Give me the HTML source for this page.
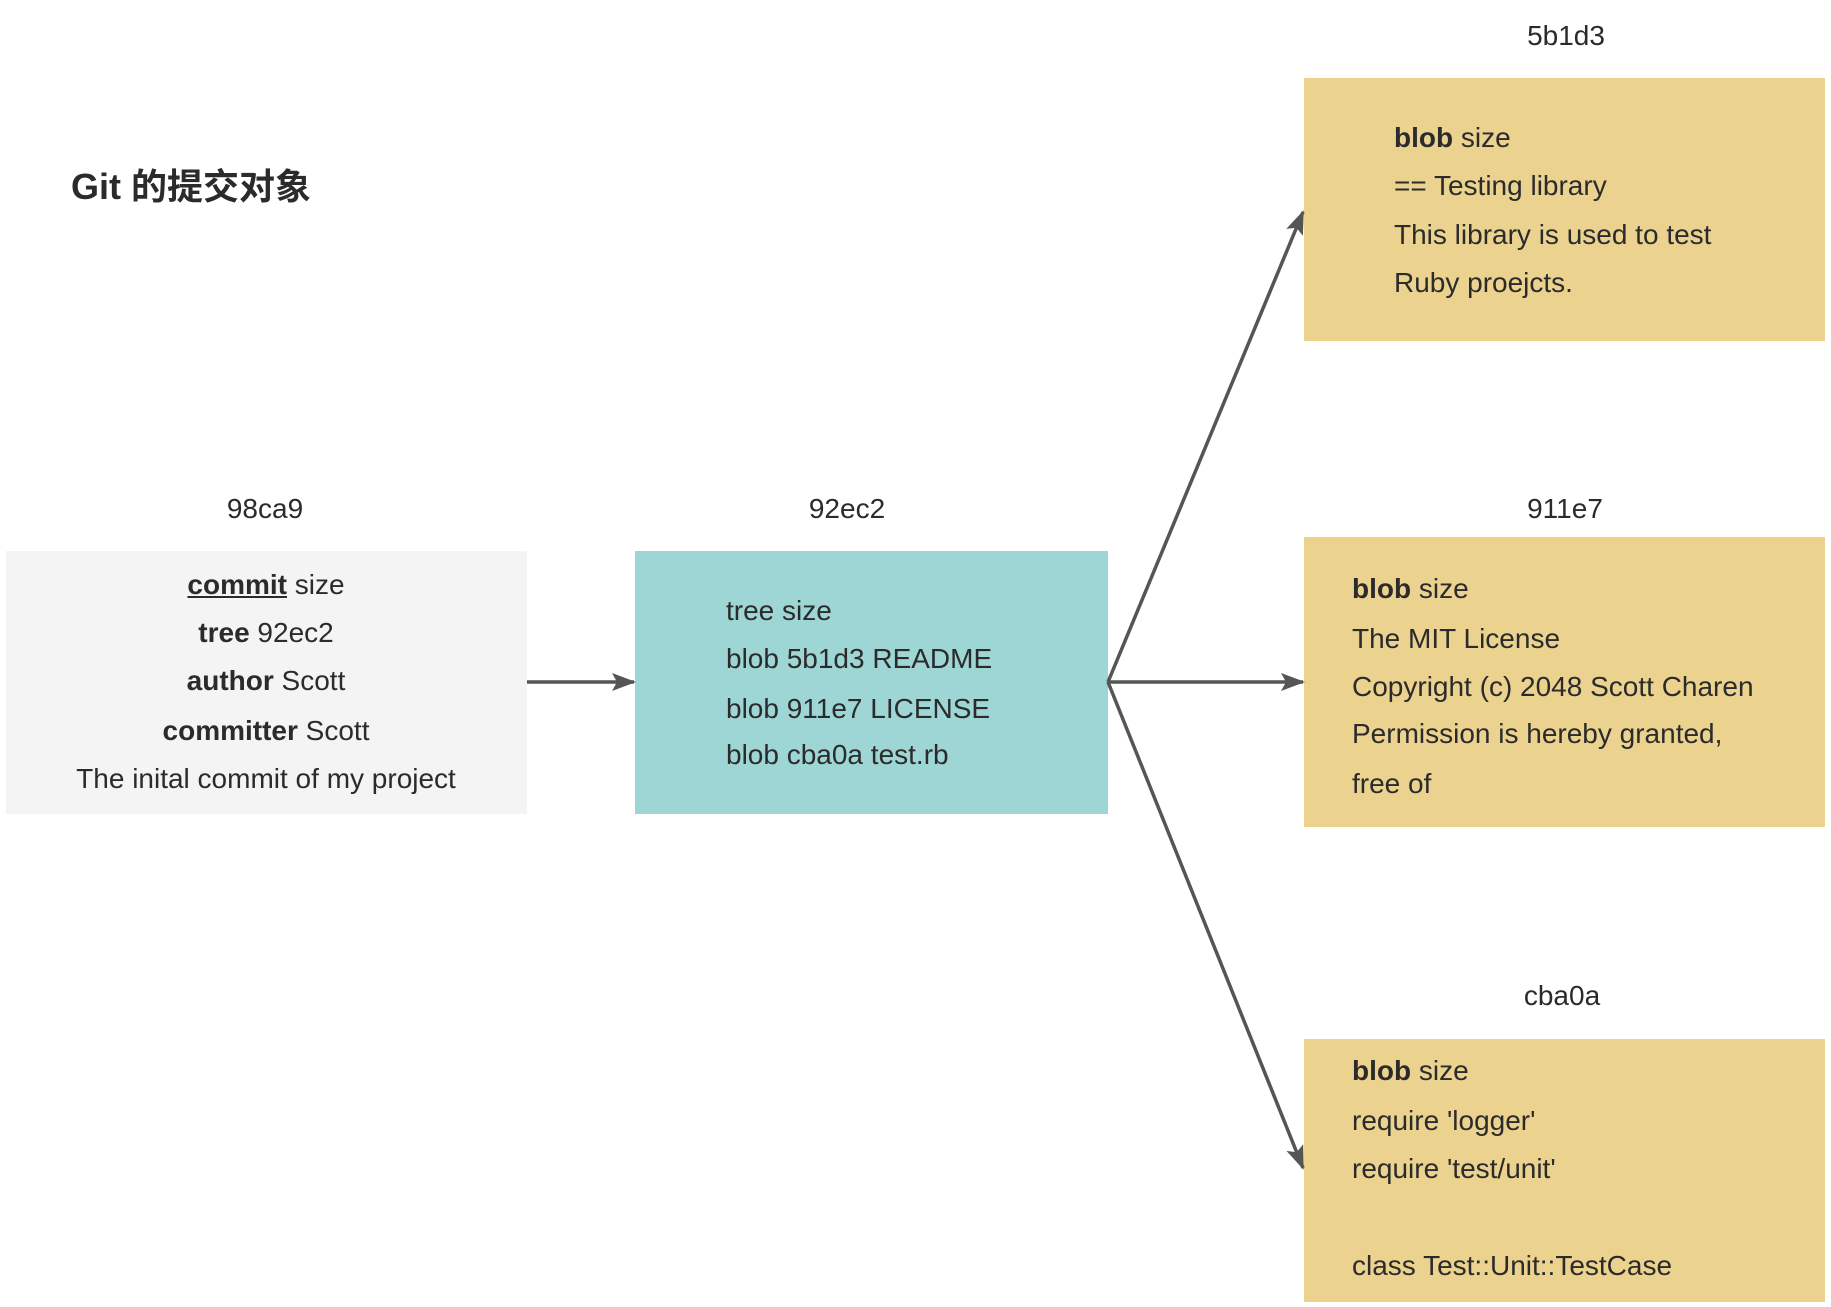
<!DOCTYPE html>
<html><head><meta charset="utf-8"><style>
body{margin:0;width:1831px;height:1307px;background:#fff;position:relative;overflow:hidden;font-family:"Liberation Sans","Noto Sans CJK SC",sans-serif;color:#2b2b2b}
.b{position:absolute}
.t{position:absolute;font-size:28px;line-height:32px;white-space:nowrap;transform:translateY(-50%)}
.c{transform:translate(-50%,-50%)}
</style></head><body>
<div class="b" style="left:6px;top:551px;width:521px;height:263px;background:#f4f4f4"></div>
<div class="b" style="left:635px;top:551px;width:473px;height:263px;background:#9dd6d4"></div>
<div class="b" style="left:1304px;top:78px;width:521px;height:263px;background:#ebd28e"></div>
<div class="b" style="left:1304px;top:537px;width:521px;height:290px;background:#ebd28e"></div>
<div class="b" style="left:1304px;top:1039px;width:521px;height:263px;background:#ebd28e"></div>
<svg class="b" style="left:0;top:0" width="1831" height="1307">
<defs><marker id="a" markerWidth="24" markerHeight="22" refX="22" refY="11" orient="auto" markerUnits="userSpaceOnUse" viewBox="0 0 24 22"><path d="M0,2L24,11L0,20L5,11z" fill="#555"/></marker></defs>
<g stroke="#555" stroke-width="3.5" fill="none">
<line x1="527" y1="682" x2="634" y2="682" marker-end="url(#a)"/>
<line x1="1108" y1="682" x2="1303" y2="682" marker-end="url(#a)"/>
<line x1="1108" y1="682" x2="1303" y2="212" marker-end="url(#a)"/>
<line x1="1108" y1="682" x2="1303" y2="1168" marker-end="url(#a)"/>
</g>
</svg>
<div class="t" style="left:71px;top:187px;font-size:36px;font-weight:bold">Git 的提交对象</div>
<div class="t c" style="left:265px;top:509px">98ca9</div>
<div class="t c" style="left:847px;top:509px">92ec2</div>
<div class="t c" style="left:1566px;top:36px">5b1d3</div>
<div class="t c" style="left:1565px;top:509px">911e7</div>
<div class="t c" style="left:1562px;top:996px">cba0a</div>

<div class="t c" style="left:266px;top:585px"><b><u>commit</u></b> size</div>
<div class="t c" style="left:266px;top:633px"><b>tree</b> 92ec2</div>
<div class="t c" style="left:266px;top:681px"><b>author</b> Scott</div>
<div class="t c" style="left:266px;top:731px"><b>committer</b> Scott</div>
<div class="t c" style="left:266px;top:779px">The inital commit of my project</div>

<div class="t" style="left:726px;top:611px">tree size</div>
<div class="t" style="left:726px;top:659px">blob 5b1d3 README</div>
<div class="t" style="left:726px;top:709px">blob 911e7 LICENSE</div>
<div class="t" style="left:726px;top:755px">blob cba0a test.rb</div>

<div class="t" style="left:1394px;top:138px"><b>blob</b> size</div>
<div class="t" style="left:1394px;top:186px">== Testing library</div>
<div class="t" style="left:1394px;top:235px">This library is used to test</div>
<div class="t" style="left:1394px;top:283px">Ruby proejcts.</div>

<div class="t" style="left:1352px;top:589px"><b>blob</b> size</div>
<div class="t" style="left:1352px;top:639px">The MIT License</div>
<div class="t" style="left:1352px;top:687px">Copyright (c) 2048 Scott Charen</div>
<div class="t" style="left:1352px;top:734px">Permission is hereby granted,</div>
<div class="t" style="left:1352px;top:784px">free of</div>

<div class="t" style="left:1352px;top:1071px"><b>blob</b> size</div>
<div class="t" style="left:1352px;top:1121px">require 'logger'</div>
<div class="t" style="left:1352px;top:1169px">require 'test/unit'</div>
<div class="t" style="left:1352px;top:1266px">class Test::Unit::TestCase</div>
</body></html>
